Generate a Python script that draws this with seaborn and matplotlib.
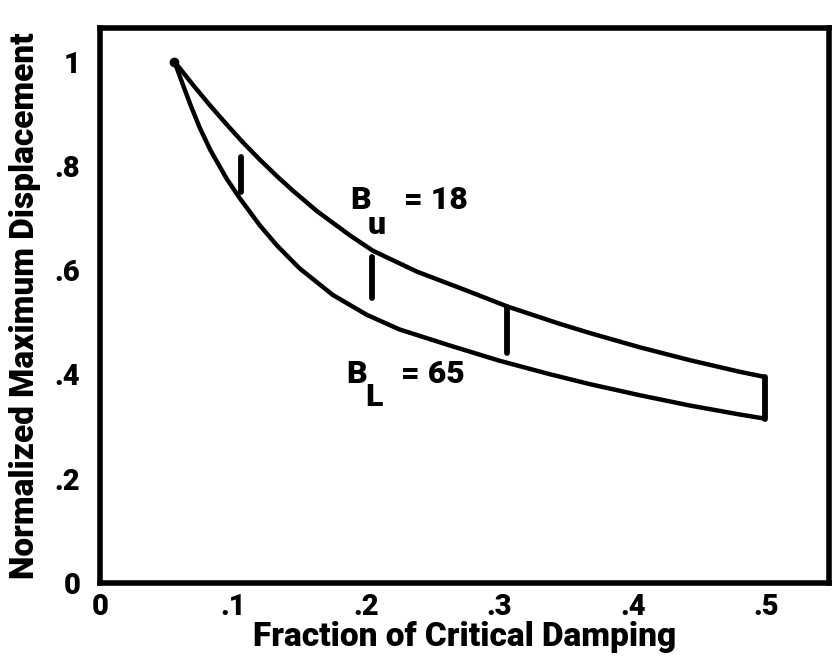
import matplotlib
matplotlib.use("Agg")
import matplotlib.pyplot as plt
import seaborn as sns
import pandas as pd

# ---- data ----
upper_x = [0.056, 0.070, 0.083, 0.095, 0.107, 0.120, 0.133, 0.145, 0.163, 0.188, 0.205,
           0.238, 0.276, 0.306, 0.345, 0.368, 0.405, 0.443, 0.480, 0.499]
upper_y = [1.000, 0.955, 0.915, 0.880, 0.846, 0.812, 0.780, 0.752, 0.713, 0.666, 0.637,
           0.597, 0.560, 0.530, 0.497, 0.479, 0.452, 0.427, 0.405, 0.395]
lower_x = [0.056, 0.062, 0.068, 0.075, 0.083, 0.095, 0.105, 0.120, 0.133, 0.150, 0.175,
           0.2005, 0.225, 0.263, 0.300, 0.338, 0.368, 0.405, 0.443, 0.480, 0.499]
lower_y = [1.000, 0.958, 0.917, 0.873, 0.830, 0.776, 0.738, 0.686, 0.647, 0.603, 0.552,
           0.514, 0.486, 0.455, 0.426, 0.400, 0.381, 0.360, 0.340, 0.323, 0.315]
bar_x = [0.106, 0.204, 0.3056, 0.499]
bar_lo = [0.750, 0.547, 0.441, 0.315]
bar_hi = [0.816, 0.626, 0.530, 0.395]
xticks = [0, 0.1, 0.2, 0.3, 0.4, 0.5]
xtick_labels = ["0", ".1", ".2", ".3", ".4", ".5"]
yticks = [0, 0.2, 0.4, 0.6, 0.8, 1.0]
ytick_labels = ["0", ".2", ".4", ".6", ".8", "1"]
x_label = "Fraction of Critical Damping"
y_label = "Normalized Maximum Displacement"
upper_label = ("B", "u", "= 18")
lower_label = ("B", "L", "= 65")

sns.set_theme(style="white")
plt.rcParams["font.family"] = ["Roboto", "DejaVu Sans"]
plt.rcParams["font.weight"] = "black"
for k in ["text.color", "axes.labelcolor", "xtick.color", "ytick.color"]:
    plt.rcParams[k] = "black"

df = pd.concat([
    pd.DataFrame({"x": upper_x, "y": upper_y, "curve": "upper"}),
    pd.DataFrame({"x": lower_x, "y": lower_y, "curve": "lower"}),
])

fig = plt.figure(figsize=(8.32, 6.6), dpi=100)
ax = fig.add_axes([0.120, 0.117, 0.876, 0.841])

sns.lineplot(data=df, x="x", y="y", units="curve", estimator=None, sort=False,
             color="black", lw=3.2, ax=ax, legend=False,
             solid_capstyle="round", solid_joinstyle="round")
ax.vlines(bar_x, bar_lo, bar_hi, color="black", lw=4.2, capstyle="round")
ax.plot([upper_x[0]], [upper_y[0]], "o", color="black", ms=6)

ax.set_xlim(0, 0.547)
ax.set_ylim(0, 1.065)
ax.set_xticks(xticks)
ax.set_xticklabels(xtick_labels, fontsize=21, fontweight="black")
ax.set_yticks(yticks)
ax.set_yticklabels(ytick_labels, fontsize=21, fontweight="black")
ax.tick_params(axis="both", direction="in", length=4, width=2, color="black", pad=7)
ax.tick_params(axis="y", pad=14)
ax.set_xlabel(x_label, fontsize=24, fontweight="black", labelpad=0)
ax.set_ylabel(y_label, fontsize=24, fontweight="black", labelpad=10)
for s in ax.spines.values():
    s.set_visible(True)
    s.set_color("black")
    s.set_linewidth(4)

kw = dict(fontsize=23, fontweight="black", color="black", va="center")
ax.text(0.196, 0.735, upper_label[0], ha="center", **kw)
ax.text(0.208, 0.687, upper_label[1], ha="center", **kw)
ax.text(0.228, 0.735, upper_label[2], ha="left", **kw)
ax.text(0.193, 0.401, lower_label[0], ha="center", **kw)
ax.text(0.206, 0.357, lower_label[1], ha="center", **kw)
ax.text(0.226, 0.401, lower_label[2], ha="left", **kw)

fig.savefig("out.png", dpi=100, facecolor="white")
